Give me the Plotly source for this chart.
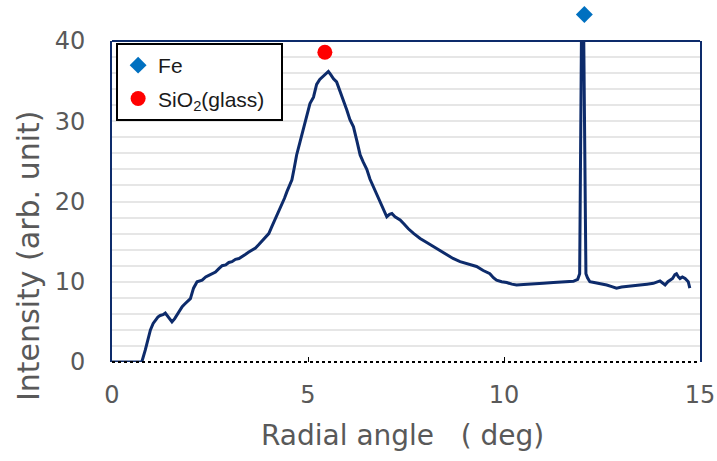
import plotly.graph_objects as go

# Radial angle (deg) and intensity (arb. unit)
angle = [0.0, 0.2, 0.4, 0.6, 0.76, 0.85, 0.92, 0.98, 1.05, 1.1, 1.17, 1.23, 1.3, 1.36, 1.44, 1.5, 1.53,
         1.6, 1.66, 1.73, 1.79, 1.85, 1.91, 2.0, 2.08, 2.17, 2.3, 2.39, 2.47, 2.56, 2.64, 2.72, 2.81,
         2.9, 2.98, 3.06, 3.15, 3.24, 3.32, 3.4, 3.49, 3.57, 3.66, 3.74, 3.82, 3.9, 4.0, 4.08, 4.17,
         4.26, 4.34, 4.4, 4.46, 4.53, 4.59, 4.65, 4.71, 4.8, 4.88, 4.96, 5.05, 5.14, 5.22, 5.3, 5.38,
         5.45, 5.52, 5.58, 5.65, 5.73, 5.8, 5.86, 5.92, 5.99, 6.07, 6.16, 6.25, 6.33, 6.41, 6.5, 6.58,
         6.67, 6.75, 6.84, 6.93, 7.01, 7.08, 7.14, 7.22, 7.28, 7.35, 7.45, 7.56, 7.7, 7.86, 8.03, 8.2,
         8.37, 8.54, 8.7, 8.88, 9.1, 9.3, 9.47, 9.64, 9.73, 9.81, 9.94, 10.07, 10.2, 10.32, 10.5, 10.75,
         11.0, 11.26, 11.5, 11.77, 11.88, 11.93, 11.975, 12.0, 12.035, 12.09, 12.13, 12.19, 12.3, 12.45,
         12.62, 12.75, 12.87, 13.0, 13.13, 13.3, 13.47, 13.65, 13.81, 13.98, 14.05, 14.11, 14.18, 14.23,
         14.3, 14.36, 14.4, 14.45, 14.49, 14.55, 14.62, 14.7, 14.74]
intensity = [0.0, 0.0, 0.05, 0.0, 0.0, 1.5, 3.0, 4.0, 4.8, 5.2, 5.6, 5.8, 5.9, 6.1, 5.6, 5.1, 5.0,
             5.4, 5.85, 6.5, 6.9, 7.2, 7.5, 7.9, 9.2, 10.0, 10.2, 10.6, 10.8, 11.0, 11.2, 11.6, 12.0,
             12.1, 12.4, 12.5, 12.8, 12.9, 13.1, 13.4, 13.7, 13.9, 14.2, 14.6, 15.0, 15.4, 16.0, 16.9, 17.9,
             18.7, 19.6, 20.4, 21.2, 22.0, 22.7, 24.2, 25.8, 27.5, 29.0, 30.5, 32.2, 33.0, 34.6, 35.2, 35.6,
             35.9, 36.2, 35.8, 35.3, 34.9, 34.0, 33.2, 32.3, 31.4, 30.2, 29.3, 27.5, 25.8, 24.9, 24.0, 22.8,
             21.8, 20.8, 19.8, 18.8, 18.1, 18.4, 18.5, 18.1, 17.9, 17.7, 17.2, 16.6, 16.0, 15.4, 14.9, 14.4,
             13.8, 13.3, 12.9, 12.5, 12.2, 11.9, 11.4, 11.0, 10.5, 10.2, 10.0, 9.9, 9.7, 9.6, 9.65, 9.7,
             9.8, 9.9, 10.0, 10.05, 10.3, 11.0, 40.0, 60.0, 40.0, 11.0, 10.5, 10.0, 9.9, 9.8,
             9.6, 9.4, 9.2, 9.35, 9.4, 9.5, 9.6, 9.7, 9.8, 10.1, 9.8, 9.6, 10.0, 10.2,
             10.4, 10.9, 11.0, 10.6, 10.4, 10.6, 10.4, 10.0, 9.2]

# Peak markers
fe_angle = [12.05]
fe_intensity = [43.3]
sio2_angle = [5.43]
sio2_intensity = [38.6]

x_ticks = [0, 5, 10, 15]
y_ticks = [0, 10, 20, 30, 40]
y_max = 40

NAVY = "#0d2b6b"
GREY = "#595959"

# layout geometry (pixels)
W, H = 717, 461
ML, MR, MT, MB = 112, 17, 4, 99
plot_h = H - MT - MB
y_top_px = 41                       # pixel row of y = 40
dom_top = (H - MB - y_top_px) / plot_h
y2_max = y_max / dom_top

fig = go.Figure()
fig.add_trace(go.Scatter(x=angle, y=intensity, mode="lines",
                         line=dict(color=NAVY, width=3), showlegend=False, hoverinfo="skip"))
fig.add_trace(go.Scatter(x=fe_angle, y=fe_intensity, mode="markers", name="Fe", yaxis="y2",
                         legendgroup="fe",
                         marker=dict(symbol="diamond", color="#0070c0", size=13),
                         cliponaxis=False))
fig.add_trace(go.Scatter(x=sio2_angle, y=sio2_intensity, mode="markers",
                         name="SiO<sub>2</sub>(glass)\u00a0\u00a0", legendgroup="sio2",
                         marker=dict(symbol="circle", color="#ff0000", size=15),
                         cliponaxis=False))

fig.update_layout(
    width=W, height=H,
    margin=dict(l=ML, r=MR, t=MT, b=MB),
    plot_bgcolor="rgba(0,0,0,0)", paper_bgcolor="white",
    font=dict(family="DejaVu Sans", color=GREY),
    legend=dict(x=0.007, y=(H - MB - 43) / plot_h, xanchor="left", yanchor="top",
                bgcolor="white", bordercolor="black", borderwidth=2,
                font=dict(family="Liberation Sans", size=21, color="#1a1a1a"),
                itemwidth=30, traceorder="grouped", tracegroupgap=3),
    shapes=[
        dict(type="line", xref="paper", yref="y domain", x0=0, x1=1, y0=1, y1=1,
             line=dict(color=NAVY, width=2)),
        dict(type="line", xref="paper", yref="paper", x0=0, x1=1, y0=0, y1=0,
             line=dict(color="black", width=2, dash="dot")),
    ],
    annotations=[
        dict(text="Intensity (arb. unit)", xref="paper", yref="paper",
             x=(28 - ML) / (W - ML - MR), y=(H - MB - 256) / plot_h,
             xanchor="center", yanchor="middle", textangle=-90, showarrow=False,
             font=dict(family="DejaVu Sans", size=30, color=GREY)),
        dict(text="Radial angle\u00a0\u00a0\u00a0( deg)", xref="paper", yref="paper",
             x=(402 - ML) / (W - ML - MR), y=(H - MB - 435) / plot_h,
             xanchor="center", yanchor="middle", showarrow=False,
             font=dict(family="DejaVu Sans", size=28, color=GREY)),
    ],
    xaxis=dict(anchor="y"),
    yaxis=dict(domain=[0, dom_top]),
    yaxis2=dict(domain=[0, 1], anchor="x", range=[0, y2_max], visible=False,
                showgrid=False, zeroline=False),
)

fig.update_xaxes(
    range=[0, 15], tickvals=x_ticks, ticktext=[str(v) for v in x_ticks],
    showgrid=False, zeroline=False, showline=False,
    ticks="inside", ticklen=5, tickwidth=1, tickcolor="black",
    tickfont=dict(size=24, color=GREY), ticklabelstandoff=16,
    automargin=False,
)
fig.update_layout(yaxis=dict(
    range=[0, y_max], tickvals=y_ticks, ticktext=[str(v) for v in y_ticks],
    showgrid=False, zeroline=False,
    showline=True, mirror=True, linecolor=NAVY, linewidth=2,
    ticks="", tickfont=dict(size=24, color=GREY), ticklabelstandoff=20,
    minor=dict(dtick=2, showgrid=True, gridcolor="#e6e6e6", gridwidth=2),
    automargin=False,
))

fig.write_html("out.html", config={"displayModeBar": False},
               post_script="document.body.style.margin='0px';")
